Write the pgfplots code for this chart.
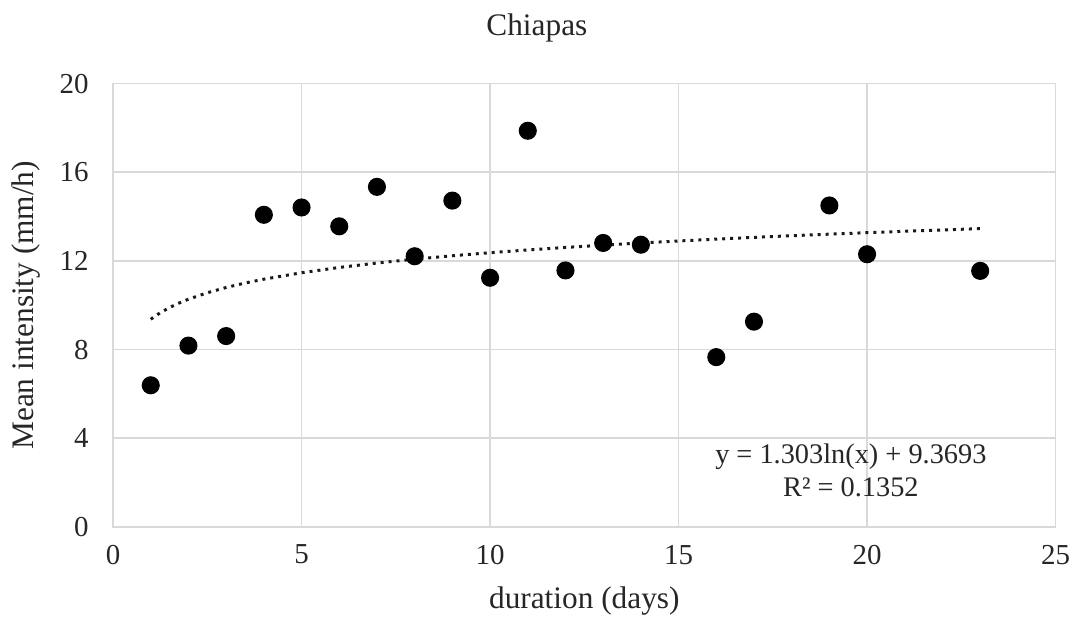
\documentclass[border=0pt]{standalone}
\usepackage{fontspec}
\setmainfont{Liberation Serif}
\usepackage{pgfplots}
\pgfplotsset{compat=1.18}
\definecolor{gridc}{HTML}{D9D9D9}
\begin{document}
\begin{tikzpicture}
\begin{axis}[
  scale only axis,
  width=316pt, height=148.67pt,
  xmin=0, xmax=25, ymin=0, ymax=20,
  xtick={0,5,...,25}, ytick={0,4,...,20},
  grid=major,
  major grid style={draw=gridc, line width=0.6pt},
  axis line style={draw=gridc, line width=0.6pt},
  major tick length=0pt,
  tick label style={font=\fontsize{9.7}{11}\selectfont, text=black!85},
  /pgf/number format/assume math mode=true,
  yticklabel style={xshift=-4.7pt},
  xticklabel style={yshift=-2.5pt},
  clip=false,
]
\addplot[only marks, mark=*, mark size=2.83pt, color=black] coordinates {
(1,6.39) (2,8.18) (3,8.61) (4,14.08) (5,14.41) (6,13.56) (7,15.34) (8,12.21)
(9,14.72) (10,11.24) (11,17.87) (12,11.57) (13,12.81) (14,12.73) (16,7.66)
(17,9.26) (19,14.50) (20,12.30) (23,11.55)
};
\addplot[no marks, color=black!90, line width=1pt, line cap=butt, dash pattern=on 1pt off 1.67pt] coordinates {
(1,9.369) (1.25,9.660) (1.5,9.898) (1.75,10.098) (2,10.273) (2.5,10.563) (3,10.801)
(3.5,11.002) (4,11.176) (5,11.466) (6,11.704) (7,11.905) (8,12.079) (9,12.232)
(10,12.370) (11,12.494) (12,12.607) (13,12.711) (14,12.808) (15,12.898) (16,12.982)
(17,13.061) (18,13.136) (19,13.206) (20,13.273) (21,13.336) (22,13.397) (23,13.455)
};
\node[anchor=base, font=\fontsize{9.5}{11}\selectfont, text=black!85] at (axis cs:19.57,2.85) {y = 1.303ln(x) + 9.3693};
\node[anchor=base, font=\fontsize{9.5}{11}\selectfont, text=black!85] at (axis cs:19.57,1.38) {R² = 0.1352};
\end{axis}
\node[anchor=base, font=\fontsize{10.5}{12}\selectfont, text=black!85] at (142.1pt,164.67pt) {Chiapas};
\node[anchor=base, font=\fontsize{10.5}{12}\selectfont, text=black!85] at (158pt,-27.3pt) {duration (days)};
\node[anchor=base, rotate=90, font=\fontsize{10.5}{12}\selectfont, text=black!85] at (-26.6pt,74.3pt) {Mean intensity (mm/h)};
\path[use as bounding box] (-37.9pt,-32pt) rectangle (322.1pt,176.67pt);
\end{tikzpicture}
\end{document}
